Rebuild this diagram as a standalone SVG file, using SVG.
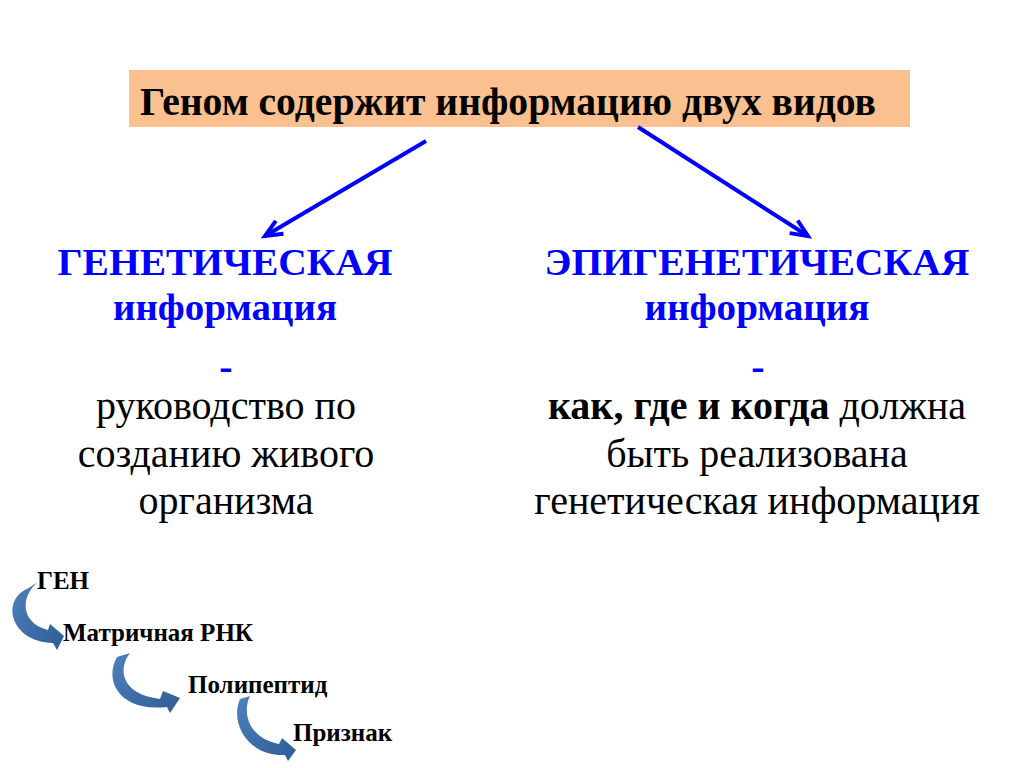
<svg xmlns="http://www.w3.org/2000/svg" width="1024" height="768" viewBox="0 0 1024 768">
<defs>
<marker id="chev" markerUnits="userSpaceOnUse" markerWidth="40" markerHeight="40" viewBox="-20 -20 40 40" refX="0" refY="0" orient="auto">
<path d="M -17,-7.5 L 0,0 L -17,7.5" fill="none" stroke="#0000FF" stroke-width="4" stroke-linejoin="miter"/>
</marker>
<linearGradient id="cg" x1="0" y1="0" x2="1" y2="1">
<stop offset="0" stop-color="#4F81BD"/>
<stop offset="1" stop-color="#2E5C95"/>
</linearGradient>
</defs>
<rect width="1024" height="768" fill="#FFFFFF"/>

<g id="header">
<rect x="129" y="70" width="781" height="57" fill="#FAC090"/>
<text font-family="Liberation Serif" font-weight="bold" font-size="40" fill="#000000" x="140" y="115" textLength="736" lengthAdjust="spacingAndGlyphs">Геном содержит информацию двух видов</text>
</g>

<g id="connectors" stroke="#0000FF" stroke-width="4" fill="none">
<line x1="426" y1="141" x2="265" y2="236" marker-end="url(#chev)"/>
<line x1="638" y1="127" x2="808" y2="236" marker-end="url(#chev)"/>
</g>

<g id="genetic">
<text font-family="Liberation Serif" font-weight="bold" fill="#0000FF" text-anchor="middle" x="225" y="275" font-size="38" textLength="335" lengthAdjust="spacingAndGlyphs">ГЕНЕТИЧЕСКАЯ</text>
<text font-family="Liberation Serif" font-weight="bold" fill="#0000FF" text-anchor="middle" x="225" y="320" font-size="38" textLength="224" lengthAdjust="spacingAndGlyphs">информация</text>
<text font-family="Liberation Serif" font-weight="bold" fill="#0000FF" text-anchor="middle" x="226" y="380" font-size="40">-</text>
<text font-family="Liberation Serif" font-size="40" fill="#000000" text-anchor="middle" x="226" y="419">руководство по</text>
<text font-family="Liberation Serif" font-size="40" fill="#000000" text-anchor="middle" x="226" y="467">созданию живого</text>
<text font-family="Liberation Serif" font-size="40" fill="#000000" text-anchor="middle" x="226" y="514">организма</text>
</g>

<g id="epigenetic">
<text font-family="Liberation Serif" font-weight="bold" fill="#0000FF" text-anchor="middle" x="757" y="275" font-size="38" textLength="425" lengthAdjust="spacingAndGlyphs">ЭПИГЕНЕТИЧЕСКАЯ</text>
<text font-family="Liberation Serif" font-weight="bold" fill="#0000FF" text-anchor="middle" x="757" y="320" font-size="38" textLength="225" lengthAdjust="spacingAndGlyphs">информация</text>
<text font-family="Liberation Serif" font-weight="bold" fill="#0000FF" text-anchor="middle" x="758" y="380" font-size="40">-</text>
<text font-family="Liberation Serif" font-size="40" fill="#000000" text-anchor="middle" x="757" y="419"><tspan font-weight="bold">как, где и когда</tspan> должна</text>
<text font-family="Liberation Serif" font-size="40" fill="#000000" text-anchor="middle" x="757" y="467">быть реализована</text>
<text font-family="Liberation Serif" font-size="40" fill="#000000" text-anchor="middle" x="757" y="514">генетическая информация</text>
</g>

<g id="flow-arrows" fill="url(#cg)">
<path d="M 38,582 C 22,594 18,622 48,630 L 50,624 L 64,636 L 57,650 L 53,643 C 10,642 1,600 27,589 Z"/>
<path d="M 130,653 C 118,668 120,694 160,699 L 163,691 L 180,698 L 170,713 L 167,707 C 118,712 104,680 117,657 Z"/>
<path d="M 250,696 C 242,712 248,738 279,744 L 282,738 L 296,750 L 288,761 L 285,755 C 246,756 230,722 240,699 Z"/>
</g>

<g id="gen"><text font-family="Liberation Serif" font-weight="bold" font-size="25" fill="#000000" x="37" y="589">ГЕН</text></g>
<g id="mrna"><text font-family="Liberation Serif" font-weight="bold" font-size="25" fill="#000000" x="63" y="641">Матричная РНК</text></g>
<g id="polypeptide"><text font-family="Liberation Serif" font-weight="bold" font-size="25" fill="#000000" x="188" y="693">Полипептид</text></g>
<g id="trait"><text font-family="Liberation Serif" font-weight="bold" font-size="25" fill="#000000" x="293" y="741">Признак</text></g>
</svg>
